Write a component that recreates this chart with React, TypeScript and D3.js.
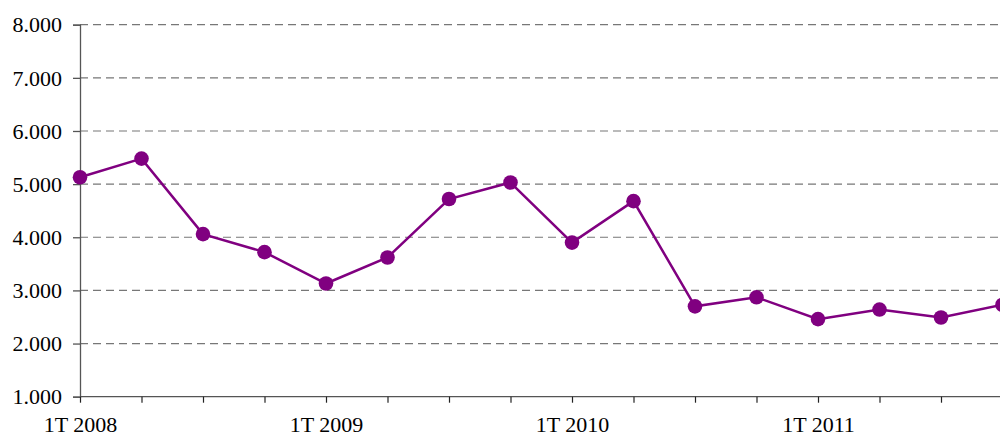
import React, { useEffect, useRef } from 'react'
import * as d3 from 'd3'

const quarters = [
  '1T 2008', '2T 2008', '3T 2008', '4T 2008',
  '1T 2009', '2T 2009', '3T 2009', '4T 2009',
  '1T 2010', '2T 2010', '3T 2010', '4T 2010',
  '1T 2011', '2T 2011', '3T 2011', '4T 2011'
]
const values = [
  5130, 5480, 4060, 3720,
  3130, 3620, 4720, 5030,
  3900, 4680, 2700, 2870,
  2460, 2640, 2490, 2730
]
const yTicks = [1000, 2000, 3000, 4000, 5000, 6000, 7000, 8000]

const fmt = (v: number) => (v / 1000).toFixed(3)
const serif = '"Liberation Serif", "Times New Roman", serif'

export default function App() {
  const ref = useRef<SVGSVGElement>(null)

  useEffect(() => {
    const svg = d3.select(ref.current)
    svg.selectAll('*').remove()

    const left = 80,
      right = 1002.5,
      top = 24.7,
      bottom = 396.7

    const x = d3.scalePoint<string>().domain(quarters).range([left, right])
    const y = d3.scaleLinear().domain([1000, 8000]).range([bottom, top])

    // dashed grid
    svg
      .append('g')
      .selectAll('line')
      .data(yTicks.filter(d => d > 1000))
      .enter()
      .append('line')
      .attr('x1', left)
      .attr('x2', 1000)
      .attr('y1', d => y(d))
      .attr('y2', d => y(d))
      .attr('stroke', '#777')
      .attr('stroke-width', 1.2)
      .attr('stroke-dasharray', '8,5')

    // y axis
    const yAxis = svg
      .append('g')
      .attr('transform', 'translate(' + left + ',0)')
      .call(
        d3
          .axisLeft(y)
          .tickValues(yTicks)
          .tickSize(7)
          .tickPadding(11)
          .tickFormat(d => fmt(+d))
      )
    yAxis.attr('font-family', serif).attr('font-size', 22)
    yAxis.select('.domain').attr('stroke', '#555').attr('stroke-width', 1.3)
    yAxis.selectAll('line').attr('stroke', '#555').attr('stroke-width', 1.3)
    yAxis
      .selectAll('text')
      .style('font-family', serif)
      .style('font-size', '22px')
      .attr('fill', '#000')
      .attr('dy', '0.33em')

    // x axis
    const xAxis = svg
      .append('g')
      .attr('transform', 'translate(0,' + bottom + ')')
      .call(
        d3
          .axisBottom(x)
          .tickSize(6)
          .tickSizeOuter(0)
          .tickFormat((d, i) => (i % 4 === 0 ? d : ''))
      )
    xAxis.attr('font-family', serif).attr('font-size', 22)
    xAxis
      .select('.domain')
      .attr('d', 'M' + left + ',0H1000')
      .attr('stroke', '#555')
      .attr('stroke-width', 1.3)
    xAxis.selectAll('line').attr('stroke', '#222').attr('stroke-width', 1.2)
    xAxis
      .selectAll('text')
      .style('font-family', serif)
      .style('font-size', '22px')
      .attr('fill', '#000')
      .attr('dy', null)
      .attr('y', 35)

    const line = d3
      .line<number>()
      .x((d, i) => x(quarters[i]) as number)
      .y(d => y(d))

    svg
      .append('path')
      .datum(values)
      .attr('d', line)
      .attr('fill', 'none')
      .attr('stroke', '#800080')
      .attr('stroke-width', 2.5)

    svg
      .append('g')
      .selectAll('circle')
      .data(values)
      .enter()
      .append('circle')
      .attr('cx', (d, i) => x(quarters[i]) as number)
      .attr('cy', d => y(d))
      .attr('r', 7.3)
      .attr('fill', '#800080')
  }, [])

  return (
    <svg
      ref={ref}
      width={1000}
      height={437}
      style={{ position: 'absolute', left: 0, top: 0, background: '#fff' }}
    />
  )
}
